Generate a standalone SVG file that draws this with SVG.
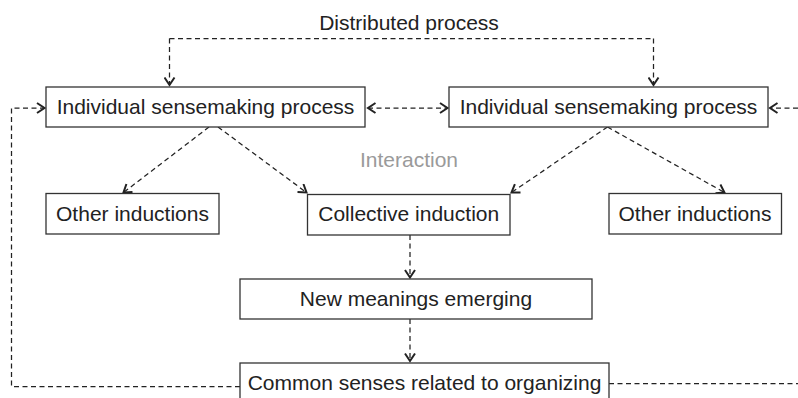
<svg xmlns="http://www.w3.org/2000/svg" width="798" height="398" viewBox="0 0 798 398">
<defs>
<style>
.box{fill:#fff;stroke:#333;stroke-width:1.3}
.t{font-family:"Liberation Sans",Arial,Helvetica,sans-serif;font-size:21px;fill:#222;text-anchor:middle}
.g{fill:#9a9a9a}
.c{fill:none;stroke:#222;stroke-width:1.25;stroke-dasharray:5 3.5}
</style>
<marker id="ah" markerWidth="12" markerHeight="12" viewBox="-10 -6 12 12" refX="0" refY="0" orient="auto-start-reverse" markerUnits="userSpaceOnUse">
<path d="M-7.5,-5 L0,0 L-7.5,5" fill="none" stroke="#222" stroke-width="2"/>
</marker>
</defs>
<rect width="798" height="398" fill="#fff"/>
<text class="t" x="409" y="30">Distributed process</text>
<text class="t g" x="409" y="167">Interaction</text>
<g id="connectors">
<path class="c" d="M169.5,38.5 H653.5"/>
<path class="c" d="M169.5,38.5 V85" marker-end="url(#ah)"/>
<path class="c" d="M653.5,38.5 V85" marker-end="url(#ah)"/>
<path class="c" d="M368,108 H447.5" marker-start="url(#ah)" marker-end="url(#ah)"/>
<path class="c" d="M798,108 H770"  marker-end="url(#ah)"/>
<path class="c" d="M240,386.5 H11.5 V108 H44.5" marker-end="url(#ah)"/>
<path class="c" d="M609,383.5 H798"/>
<path class="c" d="M209,127 L123.5,192.5" marker-end="url(#ah)"/>
<path class="c" d="M218,127 L306.5,192.5" marker-end="url(#ah)"/>
<path class="c" d="M607.5,127 L511.5,192.5" marker-end="url(#ah)"/>
<path class="c" d="M607.5,127 L724.5,192.5" marker-end="url(#ah)"/>
<path class="c" d="M410,235 V277.5" marker-end="url(#ah)"/>
<path class="c" d="M410,319 V361" marker-end="url(#ah)"/>
</g>
<g id="ind1">
<rect class="box" x="46" y="87" width="319" height="40"/>
<text class="t" x="205.5" y="113.5">Individual sensemaking process</text>
</g>
<g id="ind2">
<rect class="box" x="449" y="87" width="319" height="40"/>
<text class="t" x="608.5" y="113.5">Individual sensemaking process</text>
</g>
<g id="other1">
<rect class="box" x="46" y="193.5" width="173" height="40.5"/>
<text class="t" x="132.5" y="220.5">Other inductions</text>
</g>
<g id="collective">
<rect class="box" x="307.5" y="194.5" width="202.5" height="40.5"/>
<text class="t" x="408.7" y="221">Collective induction</text>
</g>
<g id="other2">
<rect class="box" x="609" y="193.5" width="172.5" height="40.5"/>
<text class="t" x="695" y="220.5">Other inductions</text>
</g>
<g id="newmeanings">
<rect class="box" x="240" y="279" width="352" height="40"/>
<text class="t" x="416" y="306">New meanings emerging</text>
</g>
<g id="common">
<rect class="box" x="240" y="363" width="369" height="42"/>
<text class="t" x="424.5" y="390">Common senses related to organizing</text>
</g>
</svg>
